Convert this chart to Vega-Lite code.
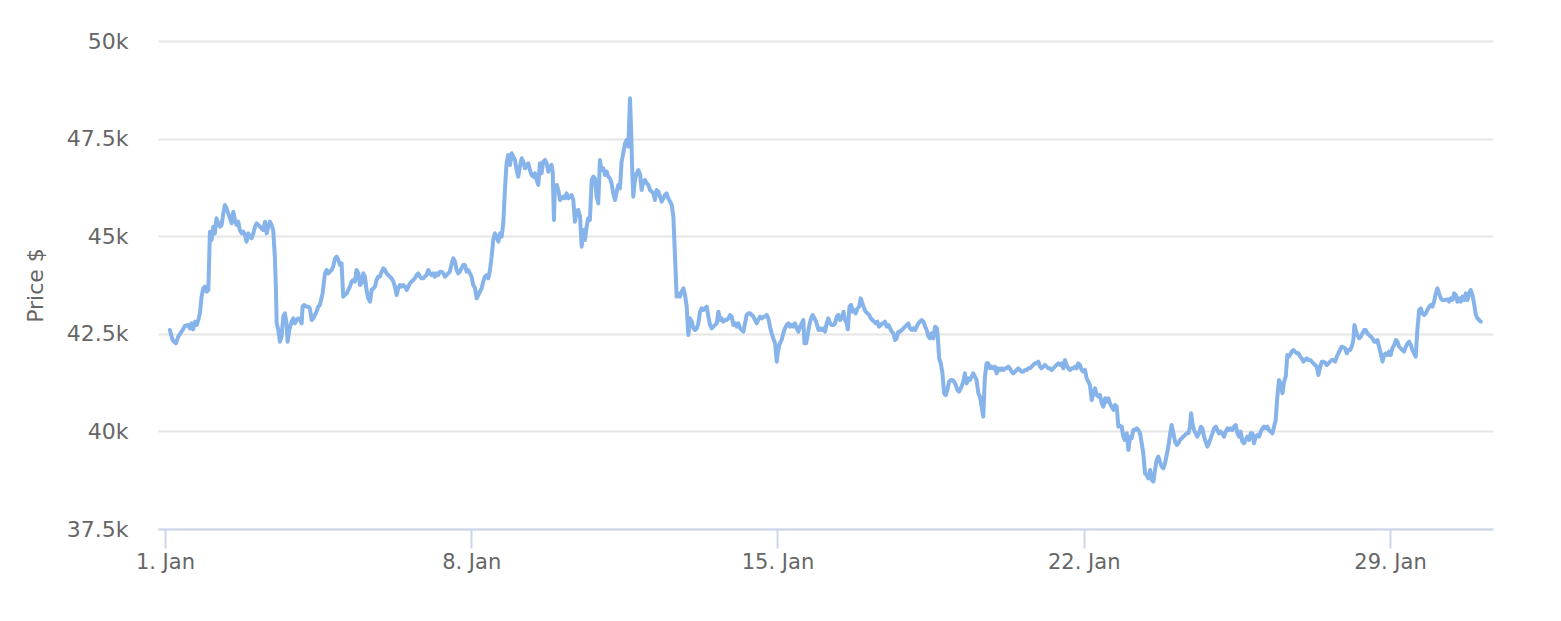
{
"$schema":"https://vega.github.io/schema/vega-lite/v6.json",
"width":1335,"height":488,
"autosize":"none",
"padding":{"left":158,"top":41,"right":68,"bottom":92},
"background":"white",
"config":{"view":{"stroke":null},"font":"DejaVu Sans"},
"data":{"values":[
{"hour":2.7,"price":42597},{"hour":4.2,"price":42341},{"hour":6.0,"price":42256},{"hour":7.3,"price":42426},{"hour":9.1,"price":42554},{"hour":11.0,"price":42700},{"hour":12.8,"price":42725},{"hour":13.7,"price":42640},{"hour":14.6,"price":42768},{"hour":15.5,"price":42614},{"hour":16.5,"price":42811},{"hour":17.4,"price":42725},{"hour":18.3,"price":42853},{"hour":19.2,"price":43024},{"hour":20.1,"price":43451},{"hour":21.0,"price":43664},{"hour":21.9,"price":43707},{"hour":22.9,"price":43579},{"hour":23.8,"price":43622},{"hour":24.7,"price":45116},{"hour":25.6,"price":44902},{"hour":26.5,"price":45244},{"hour":27.4,"price":45073},{"hour":28.3,"price":45457},{"hour":29.3,"price":45329},{"hour":30.2,"price":45244},{"hour":31.1,"price":45287},{"hour":32.0,"price":45585},{"hour":32.9,"price":45799},{"hour":33.8,"price":45713},{"hour":34.7,"price":45585},{"hour":35.7,"price":45457},{"hour":36.6,"price":45329},{"hour":37.5,"price":45628},{"hour":38.4,"price":45415},{"hour":39.3,"price":45287},{"hour":40.2,"price":45372},{"hour":41.1,"price":45158},{"hour":42.1,"price":45073},{"hour":43.0,"price":45116},{"hour":43.9,"price":45030},{"hour":44.8,"price":44860},{"hour":45.7,"price":45073},{"hour":46.6,"price":44988},{"hour":47.5,"price":44945},{"hour":48.5,"price":45073},{"hour":49.4,"price":45244},{"hour":50.3,"price":45329},{"hour":51.2,"price":45287},{"hour":52.1,"price":45244},{"hour":53.0,"price":45201},{"hour":53.9,"price":45158},{"hour":54.9,"price":45372},{"hour":55.8,"price":45073},{"hour":56.7,"price":45244},{"hour":57.6,"price":45372},{"hour":58.5,"price":45287},{"hour":59.4,"price":45158},{"hour":60.3,"price":44475},{"hour":60.9,"price":43622},{"hour":61.3,"price":42768},{"hour":62.2,"price":42597},{"hour":63.1,"price":42298},{"hour":64.0,"price":42426},{"hour":64.9,"price":42939},{"hour":65.8,"price":43024},{"hour":66.7,"price":42768},{"hour":67.3,"price":42298},{"hour":68.2,"price":42597},{"hour":69.5,"price":42811},{"hour":70.4,"price":42896},{"hour":71.3,"price":42768},{"hour":72.2,"price":42853},{"hour":73.1,"price":42896},{"hour":74.1,"price":42853},{"hour":75.0,"price":42768},{"hour":75.5,"price":43195},{"hour":76.3,"price":43237},{"hour":77.7,"price":43195},{"hour":78.6,"price":43195},{"hour":79.5,"price":43152},{"hour":80.5,"price":42853},{"hour":81.4,"price":42896},{"hour":82.3,"price":42982},{"hour":83.2,"price":43067},{"hour":84.1,"price":43195},
{"hour":85.0,"price":43238},{"hour":86.5,"price":43537},{"hour":87.8,"price":44049},{"hour":88.7,"price":44134},{"hour":89.6,"price":44049},{"hour":90.5,"price":44092},{"hour":91.4,"price":44134},{"hour":92.3,"price":44220},{"hour":93.3,"price":44433},{"hour":94.2,"price":44476},{"hour":95.1,"price":44391},{"hour":96.0,"price":44263},{"hour":96.9,"price":44305},{"hour":97.8,"price":43452},{"hour":98.7,"price":43494},{"hour":99.7,"price":43537},{"hour":100.6,"price":43622},{"hour":101.5,"price":43708},{"hour":102.4,"price":43836},{"hour":103.3,"price":43878},{"hour":104.2,"price":43836},{"hour":105.1,"price":44134},{"hour":106.1,"price":44049},{"hour":107.0,"price":43750},{"hour":107.9,"price":43793},{"hour":108.8,"price":44049},{"hour":109.7,"price":43964},{"hour":110.6,"price":43622},{"hour":111.5,"price":43409},{"hour":112.5,"price":43324},{"hour":113.4,"price":43622},{"hour":114.3,"price":43665},{"hour":115.2,"price":43708},{"hour":116.1,"price":43878},{"hour":117.0,"price":43964},{"hour":117.9,"price":43964},{"hour":118.9,"price":44092},{"hour":119.8,"price":44177},{"hour":120.7,"price":44134},{"hour":121.6,"price":44049},{"hour":122.5,"price":44006},{"hour":123.4,"price":43964},{"hour":124.3,"price":43921},{"hour":125.3,"price":43836},{"hour":126.2,"price":43708},{"hour":127.1,"price":43494},{"hour":128.0,"price":43665},{"hour":128.9,"price":43750},{"hour":129.8,"price":43708},{"hour":130.7,"price":43750},{"hour":131.7,"price":43708},{"hour":132.6,"price":43622},{"hour":133.5,"price":43708},{"hour":134.4,"price":43793},{"hour":135.3,"price":43836},{"hour":136.2,"price":43878},{"hour":137.1,"price":43921},{"hour":138.1,"price":44006},{"hour":139.0,"price":44049},{"hour":139.9,"price":43964},{"hour":140.8,"price":43921},{"hour":141.7,"price":43921},{"hour":142.6,"price":43964},{"hour":143.5,"price":44006},{"hour":144.5,"price":44134},{"hour":145.4,"price":44049},{"hour":146.3,"price":44006},{"hour":147.2,"price":44049},{"hour":148.1,"price":43964},{"hour":149.0,"price":44049},{"hour":149.9,"price":44006},{"hour":150.9,"price":44092},{"hour":151.8,"price":44092},{"hour":152.7,"price":44049},{"hour":153.6,"price":43964},{"hour":154.5,"price":44006},{"hour":155.4,"price":44049},{"hour":156.3,"price":44092},{"hour":157.3,"price":44305},{"hour":158.2,"price":44433},{"hour":159.1,"price":44348},{"hour":160.0,"price":44134},{"hour":160.9,"price":44049},{"hour":161.8,"price":44092},{"hour":162.7,"price":44177},{"hour":163.7,"price":44263},{"hour":164.6,"price":44263},{"hour":165.5,"price":44092},{"hour":166.4,"price":44134},{"hour":167.3,"price":44049},{"hour":168.2,"price":43964},{"hour":169.1,"price":43750},{"hour":170.1,"price":43665},{"hour":171.0,"price":43409},{"hour":171.9,"price":43494},{"hour":172.8,"price":43580},{"hour":173.7,"price":43665},{"hour":174.6,"price":43836},{"hour":175.5,"price":43964},{"hour":176.5,"price":44006},{"hour":177.4,"price":43921},
{"hour":178.3,"price":44134},{"hour":179.2,"price":44476},{"hour":180.1,"price":44903},{"hour":181.0,"price":45074},{"hour":181.9,"price":44988},{"hour":182.9,"price":44860},{"hour":183.8,"price":45074},{"hour":184.7,"price":44988},{"hour":185.6,"price":45330},{"hour":186.5,"price":46183},{"hour":187.4,"price":46867},{"hour":188.3,"price":47080},{"hour":189.3,"price":46824},{"hour":190.2,"price":47123},{"hour":191.1,"price":47037},{"hour":192.0,"price":46952},{"hour":192.9,"price":46696},{"hour":193.8,"price":46525},{"hour":194.7,"price":46781},{"hour":195.7,"price":46995},{"hour":196.6,"price":46909},{"hour":197.5,"price":46739},{"hour":198.4,"price":46824},{"hour":199.3,"price":46867},{"hour":200.2,"price":46696},{"hour":201.1,"price":46568},{"hour":202.1,"price":46525},{"hour":203.0,"price":46610},{"hour":203.9,"price":46440},{"hour":204.8,"price":46312},{"hour":205.7,"price":46867},{"hour":206.6,"price":46610},{"hour":207.5,"price":46909},{"hour":208.5,"price":46952},{"hour":209.4,"price":46867},{"hour":210.3,"price":46653},{"hour":211.2,"price":46781},{"hour":212.1,"price":46824},{"hour":212.7,"price":46653},{"hour":213.4,"price":45415},{"hour":213.9,"price":46269},{"hour":214.9,"price":46312},{"hour":215.8,"price":46183},{"hour":216.7,"price":45927},{"hour":217.6,"price":45970},{"hour":218.5,"price":46013},{"hour":219.4,"price":45970},{"hour":220.3,"price":46098},{"hour":221.3,"price":45970},{"hour":222.2,"price":46013},{"hour":223.1,"price":46055},{"hour":224.0,"price":45927},{"hour":224.9,"price":45373},{"hour":225.8,"price":45629},{"hour":226.7,"price":45672},{"hour":227.7,"price":45501},{"hour":228.6,"price":44732},{"hour":229.5,"price":45159},{"hour":230.4,"price":44903},{"hour":231.3,"price":45245},{"hour":232.2,"price":45458},{"hour":233.1,"price":45415},{"hour":234.1,"price":46440},{"hour":235.0,"price":46525},{"hour":235.9,"price":46482},{"hour":236.8,"price":46013},{"hour":237.7,"price":45842},{"hour":238.6,"price":46952},{"hour":239.5,"price":46696},{"hour":240.5,"price":46739},{"hour":241.4,"price":46568},{"hour":242.3,"price":46653},{"hour":243.2,"price":46525},{"hour":244.1,"price":46482},{"hour":245.0,"price":46354},{"hour":245.9,"price":46098},{"hour":246.9,"price":45927},{"hour":247.8,"price":46141},{"hour":248.7,"price":46312},{"hour":249.6,"price":46226},{"hour":250.5,"price":46909},{"hour":251.4,"price":47123},{"hour":252.4,"price":47379},{"hour":253.3,"price":47464},{"hour":254.2,"price":47294},{"hour":255.1,"price":48532},{"hour":255.6,"price":47891},{"hour":256.4,"price":46610},{"hour":256.9,"price":46013},{"hour":257.8,"price":46440},{"hour":258.7,"price":46610},{"hour":259.7,"price":46696},
{"hour":260.6,"price":46600},{"hour":261.5,"price":46183},{"hour":262.4,"price":46397},{"hour":263.3,"price":46440},{"hour":264.3,"price":46354},{"hour":265.2,"price":46312},{"hour":266.1,"price":46183},{"hour":267.0,"price":46141},{"hour":267.9,"price":46098},{"hour":268.8,"price":45927},{"hour":269.7,"price":46183},{"hour":270.7,"price":46141},{"hour":271.6,"price":46013},{"hour":272.5,"price":45885},{"hour":273.4,"price":45970},{"hour":274.3,"price":46055},{"hour":275.2,"price":46098},{"hour":276.1,"price":45970},{"hour":277.1,"price":45885},{"hour":278.0,"price":45800},{"hour":278.9,"price":45501},{"hour":279.8,"price":44476},{"hour":280.7,"price":43452},{"hour":281.6,"price":43537},{"hour":282.5,"price":43452},{"hour":283.5,"price":43580},{"hour":284.4,"price":43665},{"hour":285.3,"price":43494},{"hour":286.2,"price":43195},{"hour":287.1,"price":42470},{"hour":288.0,"price":42897},{"hour":289.0,"price":42811},{"hour":289.9,"price":42640},{"hour":290.8,"price":42598},{"hour":291.7,"price":42640},{"hour":292.6,"price":42769},{"hour":293.5,"price":43067},{"hour":294.4,"price":43153},{"hour":295.3,"price":43110},{"hour":296.3,"price":43153},{"hour":297.2,"price":43195},{"hour":298.1,"price":42939},{"hour":299.0,"price":42726},{"hour":299.9,"price":42640},{"hour":300.8,"price":42683},{"hour":301.7,"price":42726},{"hour":302.7,"price":42769},{"hour":303.6,"price":43067},{"hour":304.5,"price":42854},{"hour":305.4,"price":42897},{"hour":306.3,"price":42811},{"hour":307.2,"price":42854},{"hour":308.1,"price":42854},{"hour":309.1,"price":42897},{"hour":310.0,"price":42982},{"hour":310.9,"price":42939},{"hour":311.8,"price":42726},{"hour":312.7,"price":42769},{"hour":313.6,"price":42683},{"hour":314.6,"price":42769},{"hour":315.5,"price":42640},{"hour":316.4,"price":42598},{"hour":317.3,"price":42555},{"hour":318.2,"price":42769},{"hour":319.1,"price":42982},{"hour":320.0,"price":43025},{"hour":321.0,"price":43025},{"hour":321.9,"price":42982},{"hour":322.8,"price":42939},{"hour":323.7,"price":42854},{"hour":324.6,"price":42769},{"hour":325.5,"price":42854},{"hour":326.4,"price":42939},{"hour":327.4,"price":42897},{"hour":328.3,"price":42939},{"hour":329.2,"price":42939},{"hour":330.1,"price":42982},{"hour":331.0,"price":42897},{"hour":331.9,"price":42683},{"hour":332.8,"price":42513},{"hour":333.7,"price":42384},{"hour":334.7,"price":42256},{"hour":335.6,"price":41786},{"hour":336.1,"price":42000},{"hour":337.0,"price":42214},{"hour":338.3,"price":42342},{"hour":339.2,"price":42513},{"hour":340.1,"price":42640},{"hour":341.1,"price":42726},{"hour":342.0,"price":42769},{"hour":342.9,"price":42683},{"hour":343.8,"price":42726},{"hour":344.7,"price":42683},{"hour":345.6,"price":42769},{"hour":346.6,"price":42640},{"hour":347.5,"price":42555},
{"hour":348.4,"price":42683},{"hour":349.3,"price":42768},{"hour":350.2,"price":42853},{"hour":350.8,"price":42256},{"hour":351.7,"price":42256},{"hour":352.4,"price":42427},{"hour":353.5,"price":42725},{"hour":354.4,"price":42896},{"hour":355.3,"price":42982},{"hour":356.3,"price":42896},{"hour":357.2,"price":42811},{"hour":358.5,"price":42597},{"hour":359.4,"price":42640},{"hour":360.3,"price":42597},{"hour":361.2,"price":42640},{"hour":362.1,"price":42555},{"hour":363.0,"price":42768},{"hour":363.9,"price":42896},{"hour":364.9,"price":42768},{"hour":365.8,"price":42725},{"hour":366.7,"price":42725},{"hour":367.6,"price":42768},{"hour":368.5,"price":42939},{"hour":369.4,"price":42982},{"hour":370.3,"price":42853},{"hour":371.3,"price":42896},{"hour":372.2,"price":43067},{"hour":373.1,"price":42853},{"hour":374.0,"price":42768},{"hour":374.6,"price":42614},{"hour":375.5,"price":43195},{"hour":376.4,"price":43238},{"hour":377.3,"price":43067},{"hour":378.0,"price":43110},{"hour":378.9,"price":43024},{"hour":379.9,"price":43152},{"hour":380.8,"price":43195},{"hour":381.7,"price":43408},{"hour":382.6,"price":43280},{"hour":383.5,"price":43152},{"hour":384.4,"price":43067},{"hour":385.3,"price":43024},{"hour":386.3,"price":42982},{"hour":387.2,"price":42896},{"hour":388.1,"price":42853},{"hour":389.0,"price":42811},{"hour":389.9,"price":42768},{"hour":390.8,"price":42811},{"hour":391.7,"price":42683},{"hour":392.7,"price":42725},{"hour":393.6,"price":42768},{"hour":394.5,"price":42768},{"hour":395.0,"price":42811},{"hour":395.9,"price":42683},{"hour":396.9,"price":42725},{"hour":397.8,"price":42640},{"hour":398.7,"price":42555},{"hour":399.6,"price":42512},{"hour":400.5,"price":42341},{"hour":401.4,"price":42384},{"hour":402.3,"price":42555},{"hour":403.3,"price":42555},{"hour":404.2,"price":42597},{"hour":405.1,"price":42640},{"hour":406.0,"price":42683},{"hour":406.9,"price":42725},{"hour":407.8,"price":42768},{"hour":408.7,"price":42640},{"hour":409.7,"price":42597},{"hour":410.6,"price":42640},{"hour":411.5,"price":42597},{"hour":412.4,"price":42683},{"hour":413.3,"price":42768},{"hour":414.2,"price":42811},{"hour":415.1,"price":42853},{"hour":416.1,"price":42811},{"hour":417.0,"price":42683},{"hour":417.9,"price":42597},{"hour":418.8,"price":42427},{"hour":419.7,"price":42384},{"hour":420.6,"price":42512},{"hour":421.5,"price":42384},{"hour":422.5,"price":42683},{"hour":423.4,"price":42640},{"hour":423.9,"price":42469},{"hour":424.7,"price":41872},{"hour":425.6,"price":41744},{"hour":426.5,"price":41488},{"hour":427.4,"price":40975},{"hour":428.3,"price":40932},{"hour":429.2,"price":41061},{"hour":430.1,"price":41274},{"hour":431.1,"price":41317},{"hour":432.0,"price":41317},{"hour":432.9,"price":41274},{"hour":433.8,"price":41189},{"hour":434.7,"price":41061},{"hour":435.6,"price":41018},
{"hour":437.0,"price":41146},{"hour":437.9,"price":41274},{"hour":438.8,"price":41488},{"hour":439.8,"price":41232},{"hour":440.7,"price":41360},{"hour":441.6,"price":41317},{"hour":442.5,"price":41402},{"hour":443.4,"price":41488},{"hour":444.3,"price":41402},{"hour":445.2,"price":41317},{"hour":446.2,"price":40975},{"hour":447.1,"price":40890},{"hour":448.0,"price":40634},{"hour":448.9,"price":40378},{"hour":449.8,"price":41402},{"hour":450.7,"price":41744},{"hour":451.6,"price":41744},{"hour":452.6,"price":41616},{"hour":453.5,"price":41659},{"hour":454.4,"price":41616},{"hour":455.3,"price":41659},{"hour":456.2,"price":41488},{"hour":457.1,"price":41616},{"hour":458.1,"price":41573},{"hour":459.0,"price":41616},{"hour":459.9,"price":41573},{"hour":460.8,"price":41616},{"hour":461.7,"price":41616},{"hour":462.6,"price":41659},{"hour":463.5,"price":41616},{"hour":464.4,"price":41531},{"hour":465.4,"price":41488},{"hour":466.3,"price":41531},{"hour":467.2,"price":41573},{"hour":468.1,"price":41616},{"hour":469.0,"price":41573},{"hour":469.9,"price":41531},{"hour":470.8,"price":41531},{"hour":471.8,"price":41573},{"hour":472.7,"price":41573},{"hour":473.6,"price":41616},{"hour":474.5,"price":41616},{"hour":475.4,"price":41659},{"hour":476.3,"price":41702},{"hour":477.2,"price":41744},{"hour":478.2,"price":41744},{"hour":479.1,"price":41787},{"hour":480.0,"price":41659},{"hour":480.9,"price":41616},{"hour":481.8,"price":41659},{"hour":482.7,"price":41702},{"hour":483.6,"price":41659},{"hour":484.6,"price":41616},{"hour":485.5,"price":41616},{"hour":486.4,"price":41573},{"hour":487.3,"price":41616},{"hour":488.2,"price":41659},{"hour":489.1,"price":41702},{"hour":490.1,"price":41744},{"hour":491.0,"price":41702},{"hour":491.9,"price":41744},{"hour":492.8,"price":41616},{"hour":493.7,"price":41830},{"hour":494.6,"price":41702},{"hour":495.5,"price":41616},{"hour":496.5,"price":41573},{"hour":497.4,"price":41616},{"hour":498.3,"price":41616},{"hour":499.2,"price":41659},{"hour":500.1,"price":41616},{"hour":501.0,"price":41744},{"hour":501.9,"price":41702},{"hour":502.9,"price":41573},{"hour":503.8,"price":41531},{"hour":504.7,"price":41573},{"hour":505.6,"price":41360},{"hour":506.5,"price":41274},{"hour":507.4,"price":41189},{"hour":508.4,"price":40805},{"hour":509.3,"price":40975},{"hour":510.2,"price":41104},{"hour":511.1,"price":40933},{"hour":512.0,"price":40890},{"hour":512.9,"price":40933},{"hour":513.9,"price":40719},{"hour":514.8,"price":40634},{"hour":515.7,"price":40848},{"hour":516.6,"price":40762},{"hour":517.5,"price":40848},{"hour":518.4,"price":40719},{"hour":519.3,"price":40634},{"hour":520.3,"price":40549},{"hour":521.2,"price":40677},{"hour":522.1,"price":40634},{"hour":523.0,"price":40122},
{"hour":523.9,"price":40150},{"hour":524.8,"price":40121},{"hour":525.7,"price":39865},{"hour":526.6,"price":39780},{"hour":527.6,"price":39950},{"hour":528.5,"price":39524},{"hour":529.4,"price":39865},{"hour":530.3,"price":39822},{"hour":531.2,"price":40036},{"hour":532.1,"price":40036},{"hour":533.0,"price":40078},{"hour":534.0,"price":40036},{"hour":534.9,"price":39950},{"hour":535.8,"price":39694},{"hour":536.7,"price":39438},{"hour":537.6,"price":38925},{"hour":538.5,"price":38883},{"hour":539.4,"price":38798},{"hour":540.4,"price":39011},{"hour":541.3,"price":38755},{"hour":542.2,"price":38712},{"hour":543.1,"price":39011},{"hour":544.0,"price":39267},{"hour":544.9,"price":39353},{"hour":545.8,"price":39225},{"hour":546.8,"price":39097},{"hour":547.7,"price":39054},{"hour":548.6,"price":39182},{"hour":549.5,"price":39395},{"hour":550.4,"price":39609},{"hour":551.3,"price":39908},{"hour":552.2,"price":40164},{"hour":553.2,"price":39950},{"hour":554.1,"price":39737},{"hour":555.0,"price":39652},{"hour":555.9,"price":39694},{"hour":556.8,"price":39780},{"hour":557.7,"price":39822},{"hour":558.6,"price":39865},{"hour":559.6,"price":39908},{"hour":560.5,"price":39950},{"hour":561.4,"price":39950},{"hour":562.3,"price":40121},{"hour":562.9,"price":40462},{"hour":563.6,"price":40207},{"hour":564.5,"price":40036},{"hour":565.4,"price":39950},{"hour":566.3,"price":39865},{"hour":567.2,"price":39950},{"hour":568.2,"price":40121},{"hour":569.1,"price":40078},{"hour":570.0,"price":39865},{"hour":570.9,"price":39737},{"hour":571.8,"price":39609},{"hour":572.7,"price":39694},{"hour":573.6,"price":39822},{"hour":574.6,"price":39950},{"hour":575.5,"price":40078},{"hour":576.4,"price":40121},{"hour":577.3,"price":40036},{"hour":578.2,"price":39950},{"hour":579.1,"price":39993},{"hour":580.0,"price":39950},{"hour":581.0,"price":39865},{"hour":581.9,"price":39993},{"hour":582.8,"price":40078},{"hour":583.7,"price":40036},{"hour":584.6,"price":40078},{"hour":585.5,"price":40036},{"hour":586.4,"price":40121},{"hour":587.4,"price":40164},{"hour":588.3,"price":39950},{"hour":589.2,"price":39865},{"hour":590.1,"price":39993},{"hour":591.0,"price":39737},{"hour":591.9,"price":39694},{"hour":592.8,"price":39780},{"hour":593.7,"price":39865},{"hour":594.7,"price":39780},{"hour":595.6,"price":39950},{"hour":596.5,"price":39950},{"hour":597.4,"price":39694},{"hour":598.3,"price":39865},{"hour":599.2,"price":39908},{"hour":600.2,"price":39865},{"hour":601.1,"price":39993},{"hour":602.0,"price":40078},{"hour":602.9,"price":40121},{"hour":603.8,"price":40078},{"hour":604.7,"price":40121},{"hour":605.6,"price":40036},{"hour":606.6,"price":39993},{"hour":607.5,"price":39950},{"hour":608.4,"price":40121},{"hour":609.3,"price":40292},{"hour":610.2,"price":40889},{"hour":611.1,"price":41316},{"hour":612.1,"price":41188},{"hour":613.0,"price":40975},{"hour":613.9,"price":41274},{"hour":614.8,"price":41402},{"hour":615.7,"price":41957},{"hour":616.6,"price":41914},
{"hour":617.2,"price":41957},{"hour":618.1,"price":42042},{"hour":619.0,"price":42085},{"hour":619.9,"price":42042},{"hour":620.9,"price":42000},{"hour":621.8,"price":42000},{"hour":622.7,"price":41914},{"hour":623.6,"price":41872},{"hour":624.5,"price":41787},{"hour":625.4,"price":41829},{"hour":626.3,"price":41872},{"hour":627.3,"price":41829},{"hour":628.2,"price":41829},{"hour":629.1,"price":41787},{"hour":630.0,"price":41744},{"hour":630.9,"price":41701},{"hour":631.8,"price":41658},{"hour":632.7,"price":41445},{"hour":633.7,"price":41658},{"hour":634.6,"price":41787},{"hour":635.5,"price":41787},{"hour":636.4,"price":41761},{"hour":637.3,"price":41701},{"hour":638.2,"price":41744},{"hour":639.1,"price":41787},{"hour":640.1,"price":41829},{"hour":641.0,"price":41829},{"hour":641.9,"price":41787},{"hour":642.8,"price":41914},{"hour":643.7,"price":42000},{"hour":644.6,"price":42085},{"hour":645.5,"price":42170},{"hour":646.5,"price":42153},{"hour":647.4,"price":42128},{"hour":648.3,"price":42000},{"hour":649.2,"price":42085},{"hour":650.1,"price":42085},{"hour":651.0,"price":42170},{"hour":651.9,"price":42341},{"hour":652.5,"price":42725},{"hour":653.2,"price":42597},{"hour":654.1,"price":42469},{"hour":655.1,"price":42384},{"hour":656.0,"price":42426},{"hour":656.9,"price":42512},{"hour":657.8,"price":42597},{"hour":658.7,"price":42597},{"hour":659.6,"price":42512},{"hour":660.5,"price":42469},{"hour":661.5,"price":42426},{"hour":662.4,"price":42384},{"hour":663.3,"price":42298},{"hour":664.2,"price":42298},{"hour":665.1,"price":42341},{"hour":666.0,"price":42170},{"hour":666.9,"price":42000},{"hour":667.9,"price":41787},{"hour":668.8,"price":41957},{"hour":669.7,"price":42000},{"hour":670.6,"price":41957},{"hour":671.5,"price":42042},{"hour":672.4,"price":41957},{"hour":673.3,"price":42128},{"hour":674.3,"price":42213},{"hour":675.2,"price":42341},{"hour":676.1,"price":42298},{"hour":677.0,"price":42170},{"hour":677.9,"price":42128},{"hour":678.8,"price":42085},{"hour":679.7,"price":42042},{"hour":680.7,"price":42170},{"hour":681.6,"price":42256},{"hour":682.5,"price":42298},{"hour":683.4,"price":42213},{"hour":684.3,"price":42085},{"hour":685.2,"price":42000},{"hour":686.1,"price":41914},{"hour":687.0,"price":42597},{"hour":688.0,"price":43110},{"hour":688.9,"price":43152},{"hour":689.8,"price":43024},{"hour":690.7,"price":42982},{"hour":691.6,"price":43024},{"hour":692.5,"price":43110},{"hour":693.5,"price":43195},{"hour":694.4,"price":43238},{"hour":695.3,"price":43195},{"hour":696.2,"price":43323},{"hour":697.1,"price":43536},{"hour":698.0,"price":43664},{"hour":698.9,"price":43536},{"hour":699.9,"price":43408},{"hour":700.8,"price":43366},{"hour":701.7,"price":43366},{"hour":702.6,"price":43366},{"hour":703.5,"price":43383},{"hour":704.4,"price":43323},{"hour":705.3,"price":43408},{"hour":706.3,"price":43366},{"hour":707.2,"price":43536},{"hour":708.1,"price":43494},{"hour":709.0,"price":43323},{"hour":709.9,"price":43408},{"hour":710.8,"price":43323},{"hour":711.7,"price":43451},{"hour":712.7,"price":43366},{"hour":713.6,"price":43536},{"hour":714.5,"price":43366},{"hour":715.4,"price":43536},{"hour":716.3,"price":43622},{"hour":717.2,"price":43494},{"hour":718.1,"price":43280},{"hour":719.1,"price":42982},{"hour":720.0,"price":42896},{"hour":720.9,"price":42853},{"hour":721.8,"price":42811}
]},
"mark":{"type":"line","color":"#86b3e9","strokeWidth":4,"strokeJoin":"round","strokeCap":"round"},
"encoding":{
"x":{"field":"hour","type":"quantitative","scale":{"domain":[-3.8,728.5],"nice":false,"zero":false},
"axis":{"title":null,"values":[0,168,336,504,672],"labelExpr":"(datum.value/24+1) + '. Jan'","grid":false,"domainColor":"#ccd6eb","domainWidth":2,"tickColor":"#ccd6eb","tickWidth":2,"tickSize":19,"labelPadding":3,"labelFontSize":21,"labelColor":"#666666","labelFont":"DejaVu Sans","labelFlush":false,"labelOverlap":false}},
"y":{"field":"price","type":"quantitative","scale":{"domain":[37500,50000],"nice":false,"zero":false},
"axis":{"title":"Price $","values":[37500,40000,42500,45000,47500,50000],"labelExpr":"(datum.value/1000) + 'k'","domain":false,"ticks":false,"gridColor":"#e6e6e6","gridWidth":2,"labelPadding":30,"labelFontSize":22,"labelColor":"#666666","labelFont":"DejaVu Sans","titleFont":"DejaVu Sans","titleFontSize":22,"titleFontWeight":"normal","titleColor":"#666666","titleX":-111}}
}
}
